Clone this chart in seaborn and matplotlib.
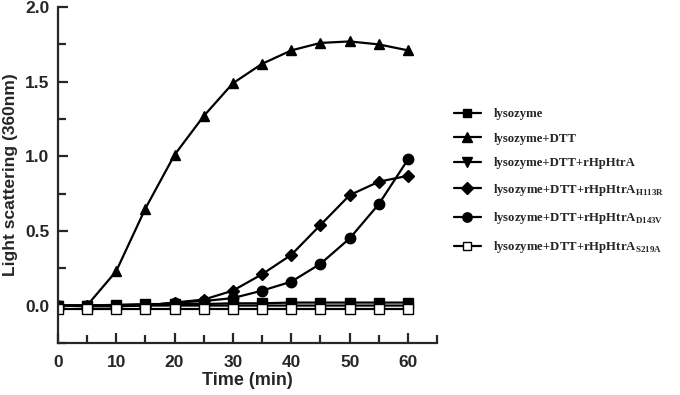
import matplotlib
matplotlib.use("Agg")
import matplotlib.pyplot as plt
import numpy as np
import pandas as pd
import seaborn as sns
from matplotlib.ticker import MultipleLocator

time = [0, 5, 10, 15, 20, 25, 30, 35, 40, 45, 50, 55, 60]

lysozyme = [0.0, 0.0, 0.005, 0.01, 0.01, 0.01, 0.015, 0.015, 0.02, 0.02, 0.02, 0.02, 0.02]
dtt = [0.0, 0.0, 0.23, 0.65, 1.01, 1.27, 1.49, 1.62, 1.71, 1.76, 1.77, 1.75, 1.71]
htra = [0.0, -0.005, -0.005, 0.0, 0.0, 0.0, 0.0, 0.0, 0.0, 0.0, 0.0, 0.0, 0.0]
h113r = [0.0, 0.0, 0.0, 0.0, 0.02, 0.04, 0.10, 0.21, 0.34, 0.54, 0.74, 0.83, 0.87]
d143v = [0.0, 0.0, 0.0, 0.0, 0.02, 0.03, 0.05, 0.10, 0.16, 0.28, 0.45, 0.68, 0.98]
s219a = [-0.02, -0.02, -0.02, -0.02, -0.02, -0.02, -0.02, -0.02, -0.02, -0.02, -0.02, -0.02, -0.02]

labels = ['lysozyme', 'lysozyme+DTT', 'lysozyme+DTT+rHpHtrA',
          'lysozyme+DTT+rHpHtrA$_{\\mathrm{H113R}}$',
          'lysozyme+DTT+rHpHtrA$_{\\mathrm{D143V}}$',
          'lysozyme+DTT+rHpHtrA$_{\\mathrm{S219A}}$']
series = [lysozyme, dtt, htra, h113r, d143v, s219a]
markers = ['s', '^', 'v', 'D', 'o', 's']
msizes = [7, 7.5, 7.5, 6.5, 7.5, 7]
faces = ['black', 'black', 'black', 'black', 'black', 'white']

sns.set_style('ticks')
plt.rcParams['font.family'] = ['Liberation Sans', 'DejaVu Sans']
plt.rcParams['font.weight'] = 'bold'
plt.rcParams['mathtext.fontset'] = 'custom'
plt.rcParams['mathtext.rm'] = 'Liberation Serif:bold'
plt.rcParams['mathtext.bf'] = 'Liberation Serif:bold'

fig = plt.figure(figsize=(6.8, 3.95), dpi=100)
ax = fig.add_axes([0.085, 0.132, 0.558, 0.850])

for vals, lab, m, ms, fc in zip(series, labels, markers, msizes, faces):
    sns.lineplot(x=time, y=vals, ax=ax, color='black', linewidth=1.6,
                 marker=m, markersize=ms, markerfacecolor=fc,
                 markeredgecolor='black', markeredgewidth=1.0, label=lab)

ax.set_xlim(0, 65)
ax.set_ylim(-0.25, 2.0)
ax.xaxis.set_major_locator(MultipleLocator(10))
ax.xaxis.set_minor_locator(MultipleLocator(5))
ax.yaxis.set_major_locator(MultipleLocator(0.5))
ax.yaxis.set_minor_locator(MultipleLocator(0.25))
ax.set_xticks([0, 10, 20, 30, 40, 50, 60])
ax.tick_params(which='both', direction='in', width=1.6, labelsize=12.5)
ax.tick_params(which='major', length=7)
ax.tick_params(which='minor', length=6)
ax.tick_params(axis='x', pad=9)
ax.tick_params(axis='y', pad=6)
for lbl in ax.get_xticklabels() + ax.get_yticklabels():
    lbl.set_fontweight('bold')
ax.xaxis.set_major_formatter(matplotlib.ticker.FuncFormatter(lambda v, p: f'{v:.0f}'))
ax.yaxis.set_major_formatter(matplotlib.ticker.FuncFormatter(lambda v, p: f'{v:.1f}'))
for s in ['left', 'bottom']:
    ax.spines[s].set_linewidth(1.6)
sns.despine(ax=ax)

ax.set_xlabel('Time (min)', fontsize=13, fontweight='bold', labelpad=1)
ax.set_ylabel('Light scattering (360nm)', fontsize=12.5, fontweight='bold', labelpad=5)

ax.legend(loc='upper left', bbox_to_anchor=(1.02, 0.725), frameon=False,
          prop={'family': 'Liberation Serif', 'weight': 'bold', 'size': 9.2},
          labelspacing=0.98, handlelength=2.1, handletextpad=1.0, markerscale=0.9,
          borderaxespad=0.3)

fig.savefig('out.png', dpi=100)
